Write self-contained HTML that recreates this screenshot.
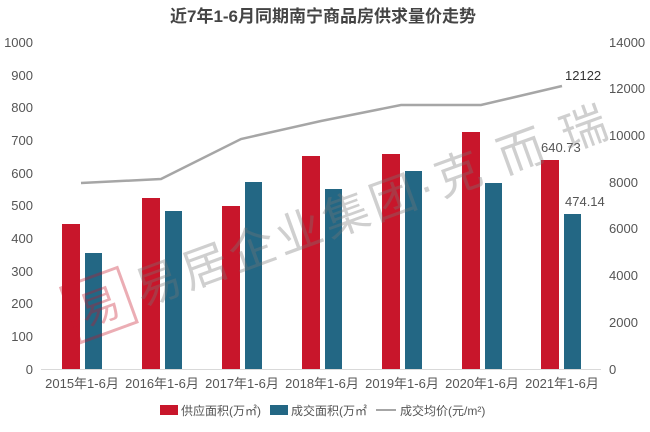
<!DOCTYPE html>
<html><head><meta charset="utf-8"><style>
body{margin:0;background:#fff}
svg text{font-family:"Liberation Sans","Noto Sans CJK SC",sans-serif}
</style></head><body>
<svg width="650" height="427" xmlns="http://www.w3.org/2000/svg">
<text x="323" y="22" text-anchor="middle" font-size="17" font-weight="bold" fill="#444">近7年1-6月同期南宁商品房供求量价走势</text>
<g font-size="13" fill="#555">
<g text-anchor="end">
<text x="33" y="47">1000</text><text x="33" y="80">900</text><text x="33" y="112">800</text><text x="33" y="145">700</text><text x="33" y="178">600</text><text x="33" y="210">500</text><text x="33" y="243">400</text><text x="33" y="276">300</text><text x="33" y="308">200</text><text x="33" y="341">100</text><text x="33" y="374">0</text>
</g>
<text x="609" y="47">14000</text><text x="609" y="93">12000</text><text x="609" y="140">10000</text><text x="609" y="187">8000</text><text x="609" y="233">6000</text><text x="609" y="280">4000</text><text x="609" y="327">2000</text><text x="609" y="374">0</text>
</g>
<line x1="41" y1="369.5" x2="601" y2="369.5" stroke="#d9d9d9"/>
<g fill="#c8162b">
<rect x="62" y="224" width="18" height="145"/><rect x="142" y="198" width="18" height="171"/><rect x="222" y="206" width="18" height="163"/><rect x="302" y="156" width="18" height="213"/><rect x="382" y="154" width="18" height="215"/><rect x="462" y="132" width="18" height="237"/><rect x="541" y="160" width="18" height="209"/>
</g>
<g fill="#236784">
<rect x="85" y="253" width="17" height="116"/><rect x="165" y="211" width="17" height="158"/><rect x="245" y="182" width="17" height="187"/><rect x="325" y="189" width="17" height="180"/><rect x="405" y="171" width="17" height="198"/><rect x="485" y="183" width="17" height="186"/><rect x="564" y="214" width="17" height="155"/>
</g>
<polyline points="81,183 161,179 241,139 321,121 401,105 481,105 562,86" fill="none" stroke="#a6a6a6" stroke-width="2.5"/>
<g font-size="13" fill="#333">
<text x="565" y="80">12122</text>
<text x="541" y="152" fill="#555">640.73</text>
<text x="565" y="206" fill="#555">474.14</text>
</g>
<g font-size="13" fill="#555" text-anchor="middle">
<text x="82" y="388">2015年1-6月</text><text x="162" y="388">2016年1-6月</text><text x="242" y="388">2017年1-6月</text><text x="322" y="388">2018年1-6月</text><text x="402" y="388">2019年1-6月</text><text x="482" y="388">2020年1-6月</text><text x="562" y="388">2021年1-6月</text>
</g>
<g font-size="12" fill="#555">
<rect x="160" y="405" width="18" height="10" fill="#c8162b"/><text x="181" y="415">供应面积(万㎡)</text>
<rect x="270" y="405" width="18" height="10" fill="#236784"/><text x="291" y="415">成交面积(万㎡</text>
<line x1="376" y1="410" x2="396" y2="410" stroke="#a6a6a6" stroke-width="2"/><text x="400" y="415">成交均价(元/m²)</text>
</g>
<g opacity="0.35" transform="translate(0,-45) rotate(-20 300 230)">
<rect x="40" y="245" width="60" height="58" fill="none" stroke="#c8162b" stroke-width="3"/>
<text x="70" y="290" font-size="40" fill="#c8162b" text-anchor="middle">易</text>
<text x="110" y="290" font-size="46" fill="#777" letter-spacing="4">易居企业集团·克 而 瑞</text>
</g>
</svg>
</body></html>
